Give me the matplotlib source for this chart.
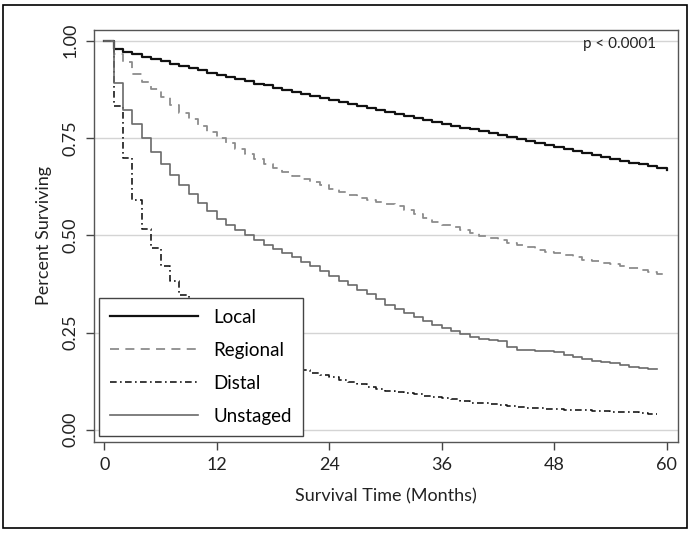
import numpy as np
import matplotlib
matplotlib.use("Agg")
import matplotlib.pyplot as plt
from matplotlib.patches import Rectangle

plt.rcParams['font.family'] = ['Lato', 'DejaVu Sans']

# Kaplan-Meier estimates, value held from month k to k+1
local = [1.000, 0.978, 0.971, 0.965, 0.959, 0.953, 0.947, 0.941, 0.935, 0.930,
         0.924, 0.918, 0.913, 0.907, 0.902, 0.896, 0.890, 0.885, 0.879, 0.873,
         0.868, 0.862, 0.857, 0.852, 0.847, 0.842, 0.837, 0.832, 0.826, 0.821,
         0.816, 0.811, 0.806, 0.801, 0.796, 0.791, 0.786, 0.781, 0.776, 0.772,
         0.767, 0.762, 0.757, 0.752, 0.747, 0.742, 0.737, 0.732, 0.727, 0.722,
         0.717, 0.712, 0.707, 0.702, 0.697, 0.692, 0.687, 0.682, 0.677, 0.672,
         0.668]
regional = [1.000, 0.965, 0.945, 0.915, 0.895, 0.875, 0.855, 0.835, 0.815, 0.798,
            0.780, 0.765, 0.750, 0.738, 0.722, 0.708, 0.695, 0.684, 0.673, 0.662,
            0.653, 0.644, 0.636, 0.628, 0.620, 0.612, 0.604, 0.597, 0.590, 0.585,
            0.580, 0.574, 0.566, 0.555, 0.545, 0.535, 0.527, 0.520, 0.513, 0.506,
            0.498, 0.492, 0.487, 0.481, 0.475, 0.469, 0.463, 0.458, 0.454, 0.450,
            0.445, 0.437, 0.433, 0.429, 0.425, 0.420, 0.416, 0.411, 0.406, 0.400,
            0.396]
distal = [1.000, 0.832, 0.698, 0.591, 0.517, 0.467, 0.420, 0.382, 0.347, 0.318,
          0.292, 0.270, 0.252, 0.236, 0.222, 0.210, 0.199, 0.189, 0.180, 0.171,
          0.162, 0.154, 0.147, 0.141, 0.135, 0.129, 0.123, 0.117, 0.111, 0.106,
          0.101, 0.097, 0.094, 0.091, 0.088, 0.085, 0.082, 0.078, 0.074, 0.070,
          0.068, 0.066, 0.063, 0.061, 0.059, 0.057, 0.055, 0.054, 0.053, 0.052,
          0.051, 0.050, 0.049, 0.048, 0.047, 0.046, 0.045, 0.043, 0.041, 0.040]
unstaged = [1.000, 0.892, 0.822, 0.786, 0.750, 0.714, 0.682, 0.655, 0.629, 0.605,
            0.584, 0.563, 0.542, 0.527, 0.513, 0.500, 0.488, 0.476, 0.465, 0.454,
            0.443, 0.432, 0.421, 0.408, 0.396, 0.383, 0.371, 0.360, 0.348, 0.335,
            0.320, 0.310, 0.299, 0.289, 0.279, 0.270, 0.262, 0.254, 0.246, 0.239,
            0.234, 0.232, 0.228, 0.212, 0.206, 0.204, 0.203, 0.202, 0.200, 0.193,
            0.186, 0.181, 0.178, 0.175, 0.171, 0.166, 0.162, 0.159, 0.156, 0.155]

x_ticks = [0, 12, 24, 36, 48, 60]
y_ticks = [0.0, 0.25, 0.5, 0.75, 1.0]
y_tick_labels = ['0.00', '0.25', '0.50', '0.75', '1.00']

fig = plt.figure(figsize=(6.91, 5.33), dpi=100)
ax = fig.add_axes([0.136, 0.171, 0.845, 0.773])

ax.step(np.arange(len(local)), local, where='post', color='#111111', lw=1.6, label='Local')
ax.step(np.arange(len(regional)), regional, where='post', color='#8c8c8c', lw=1.3,
        dashes=(5, 3.5), label='Regional')
ax.step(np.arange(len(distal)), distal, where='post', color='#1a1a1a', lw=1.2,
        dashes=(4, 2, 1, 2), label='Distal')
ax.step(np.arange(len(unstaged)), unstaged, where='post', color='#6a6a6a', lw=1.2,
        label='Unstaged')

ax.set_xlim(-1.1, 61.2)
ax.set_ylim(-0.031, 1.028)
ax.set_xticks(x_ticks)
ax.set_yticks(y_ticks)
ax.set_yticklabels(y_tick_labels, rotation=90, va='center')
ax.tick_params(axis='both', direction='out', length=6, width=1, color='#444444',
               labelsize=13, labelcolor='#222222')
ax.tick_params(axis='x', pad=5)
ax.tick_params(axis='y', pad=5)
ax.grid(axis='y', color='#d4d4d4', lw=1)
ax.set_axisbelow(True)
for s in ax.spines.values():
    s.set_color('#555555')
    s.set_linewidth(1)

ax.set_xlabel('Survival Time (Months)', fontsize=13, color='#222222', labelpad=11)
ax.set_ylabel('Percent Surviving', fontsize=13, color='#222222', labelpad=8)

ax.text(0.962, 0.965, 'p < 0.0001', transform=ax.transAxes, ha='right', va='center',
        fontsize=11, color='#222222')

leg = ax.legend(loc='lower left', bbox_to_anchor=(0.008, 0.014), fontsize=13.5,
                frameon=True, fancybox=False, edgecolor='#444444', framealpha=1,
                handlelength=4.7, handletextpad=0.8, labelspacing=0.85,
                borderpad=0.6, borderaxespad=0)
leg.get_frame().set_linewidth(1)

fig.patches.append(Rectangle((0.0043, 0.0094), 0.99, 0.981, transform=fig.transFigure,
                             fill=False, edgecolor='black', lw=1.2))

fig.savefig('out.png', dpi=100)
